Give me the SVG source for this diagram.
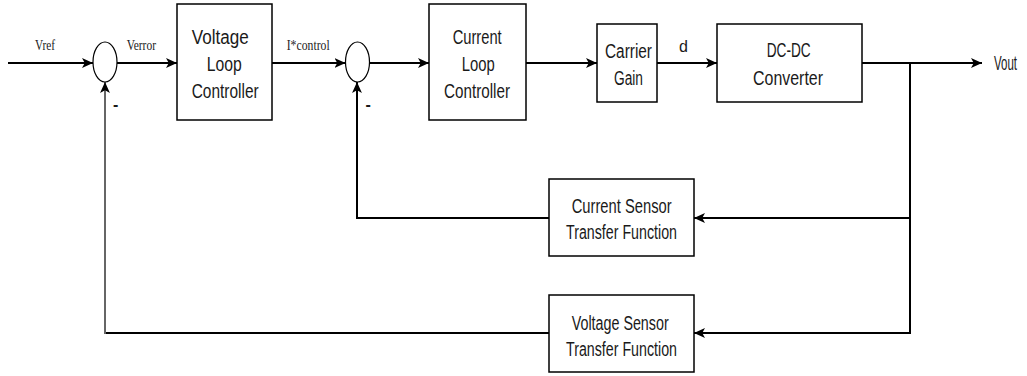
<svg xmlns="http://www.w3.org/2000/svg" width="1027" height="376" viewBox="0 0 1027 376">
<style>
.box{fill:#fff;stroke:#000;stroke-width:1.5}
.sum{fill:#fff;stroke:#000;stroke-width:1.2}
.t{font-family:"Liberation Sans",Arial,sans-serif;font-size:19.5px;fill:#1a1a1a}
.s{font-family:"Liberation Serif","Times New Roman",serif;font-size:14.5px;fill:#1a1a1a}
.w{fill:none;stroke:#000;stroke-width:2}
.g{fill:none;stroke:#666;stroke-width:2}
</style>
<defs>
<marker id="ah" viewBox="0 0 10 10" refX="10" refY="5" markerWidth="11" markerHeight="11" markerUnits="userSpaceOnUse" orient="auto">
<path d="M0,0.5 L10,5 L0,9.5 L2.5,5 Z" fill="#000"/>
</marker>
</defs>
<g id="connectors">
<line class="w" x1="8" y1="63" x2="93" y2="63" marker-end="url(#ah)"/>
<line class="w" x1="117" y1="63" x2="177" y2="63" marker-end="url(#ah)"/>
<line class="w" x1="272" y1="63" x2="345.5" y2="63" marker-end="url(#ah)"/>
<line class="w" x1="369.5" y1="63" x2="429" y2="63" marker-end="url(#ah)"/>
<line class="w" x1="526" y1="63" x2="597" y2="63" marker-end="url(#ah)"/>
<line class="w" x1="657" y1="63" x2="717" y2="63" marker-end="url(#ah)"/>
<line class="w" x1="862" y1="63" x2="982" y2="63" marker-end="url(#ah)"/>
<line class="w" x1="910" y1="63" x2="910" y2="334"/>
<line class="w" x1="910" y1="218" x2="694" y2="218" marker-end="url(#ah)"/>
<polyline class="w" points="549,218 357,218 357,82" marker-end="url(#ah)"/>
<line class="w" x1="910" y1="333" x2="694" y2="333" marker-end="url(#ah)"/>
<line class="w" x1="549" y1="333" x2="104" y2="333"/>
<line class="g" x1="105" y1="334" x2="105" y2="82" marker-end="url(#ah)"/>
</g>
<g id="sum1"><ellipse class="sum" cx="105" cy="62" rx="12" ry="20"/></g>
<g id="sum2"><ellipse class="sum" cx="357.5" cy="62" rx="12" ry="20"/></g>
<g id="vlc">
<rect class="box" x="177" y="4" width="95" height="116"/>
<text class="t" x="191.7" y="43.5" textLength="57" lengthAdjust="spacingAndGlyphs">Voltage</text>
<text class="t" x="206.7" y="70.5" textLength="35" lengthAdjust="spacingAndGlyphs">Loop</text>
<text class="t" x="191.7" y="97.5" textLength="67" lengthAdjust="spacingAndGlyphs">Controller</text>
</g>
<g id="clc">
<rect class="box" x="429" y="4" width="97" height="116"/>
<text class="t" x="452.7" y="43.5" textLength="49" lengthAdjust="spacingAndGlyphs">Current</text>
<text class="t" x="461.7" y="70.5" textLength="33" lengthAdjust="spacingAndGlyphs">Loop</text>
<text class="t" x="444" y="97.5" textLength="66" lengthAdjust="spacingAndGlyphs">Controller</text>
</g>
<g id="cg">
<rect class="box" x="597" y="24" width="60" height="78"/>
<text class="t" x="605" y="58" textLength="47" lengthAdjust="spacingAndGlyphs">Carrier</text>
<text class="t" x="614" y="85" textLength="29" lengthAdjust="spacingAndGlyphs">Gain</text>
</g>
<g id="dcdc">
<rect class="box" x="717" y="24" width="145" height="78"/>
<text class="t" x="766.7" y="57" textLength="44" lengthAdjust="spacingAndGlyphs">DC-DC</text>
<text class="t" x="753" y="85" textLength="70" lengthAdjust="spacingAndGlyphs">Converter</text>
</g>
<g id="cs">
<rect class="box" x="549" y="179" width="145" height="77"/>
<text class="t" x="571.7" y="213" textLength="100" lengthAdjust="spacingAndGlyphs">Current Sensor</text>
<text class="t" x="566" y="238.5" textLength="111" lengthAdjust="spacingAndGlyphs">Transfer Function</text>
</g>
<g id="vs">
<rect class="box" x="549" y="295" width="145" height="77"/>
<text class="t" x="571.7" y="330" textLength="97" lengthAdjust="spacingAndGlyphs">Voltage Sensor</text>
<text class="t" x="566" y="356" textLength="111" lengthAdjust="spacingAndGlyphs">Transfer Function</text>
</g>
<g id="labels">
<text class="s" x="35" y="50" textLength="20" lengthAdjust="spacingAndGlyphs">Vref</text>
<text class="s" x="126.7" y="50" textLength="29.3" lengthAdjust="spacingAndGlyphs">Verror</text>
<text class="s" x="286.7" y="50" textLength="43" lengthAdjust="spacingAndGlyphs">I*control</text>
<text class="t" x="679" y="52" style="font-size:16px">d</text>
<text class="t" x="994" y="70" textLength="23" lengthAdjust="spacingAndGlyphs">Vout</text>
<text class="t" x="113" y="110" style="font-size:16px;font-weight:bold">-</text>
<text class="t" x="365.5" y="110" style="font-size:16px;font-weight:bold">-</text>
</g>
</svg>
